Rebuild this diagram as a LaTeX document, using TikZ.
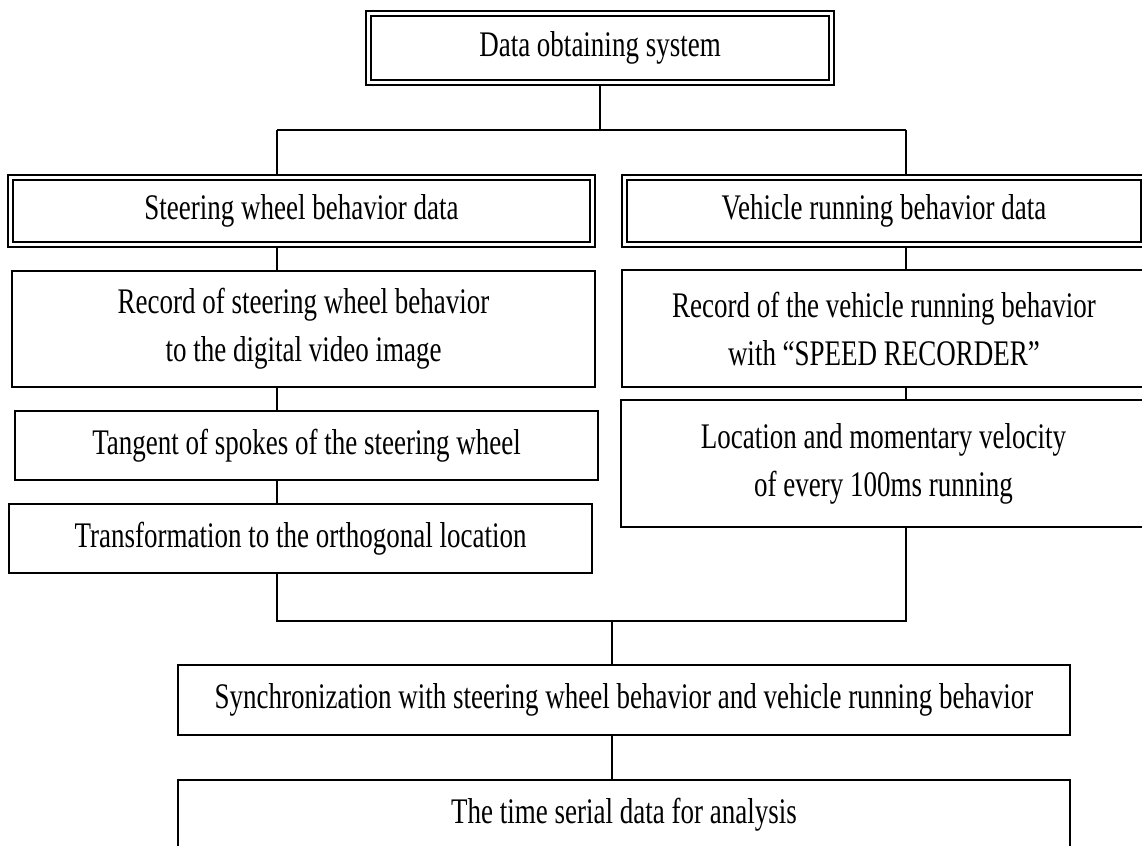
\documentclass[tikz,border=0pt]{standalone}
\usepackage{fontspec}
\setmainfont[FakeStretch=0.75]{Liberation Serif}
\usetikzlibrary{positioning, calc}

\begin{document}
\begin{tikzpicture}[x=0.5pt, y=-0.5pt,
  box/.style={draw, line width=0.9pt, align=center, inner sep=0pt, font=\fontsize{18}{24}\selectfont},
  dblbox/.style={box, line width=1.3pt, path picture={
      \draw[line width=0.8pt] ([shift={(2.5pt,-2.5pt)}]path picture bounding box.north west)
        rectangle ([shift={(-2.5pt,2.5pt)}]path picture bounding box.south east);}},
  link/.style={line width=0.85pt}
]
\useasboundingbox (0,0) rectangle (1142,846);

% top level
\node[dblbox, minimum width=234pt, minimum height=37pt] (sys) at (600,48) {Data obtaining system};
\node[dblbox, minimum width=293.5pt, minimum height=36pt] (steer) at (301.5,211) {Steering wheel behavior data};
\node[dblbox, minimum width=262pt, minimum height=36pt] (vehicle) at (884,211) {Vehicle running behavior data};

% left branch
\node[box, minimum width=291.5pt, minimum height=58pt] (recS) at (303.5,329) {Record of steering wheel behavior\\to the digital video image};
\node[box, minimum width=291.5pt, minimum height=34.5pt] (tang) at (306.5,445.5) {Tangent of spokes of the steering wheel};
\node[box, minimum width=291.5pt, minimum height=34.5pt] (trans) at (300.5,538.5) {Transformation to the orthogonal location};

% right branch
\node[box, minimum width=262pt, minimum height=58.5pt] (recV) at (884,328.5) {Record of the vehicle running behavior\\with “SPEED RECORDER”};
\node[box, minimum width=262.5pt, minimum height=63.5pt] (loc) at (883.5,463.5) {Location and momentary velocity\\of every 100ms running};

% merge
\node[box, minimum width=446pt, minimum height=35pt] (sync) at (624,700) {Synchronization with steering wheel behavior and vehicle running behavior};
\node[box, minimum width=446pt, minimum height=35pt] (final) at (624,815) {The time serial data for analysis};

\coordinate (jl) at (277,130);
\coordinate (jr) at (906,130);
\coordinate (jm) at (612,621);

\draw[link] (sys.south) -- (sys.south |- jl);
\draw[link] (jl) -- (jr);
\draw[link] (jl) -- (jl |- steer.north);
\draw[link] (jr) -- (jr |- vehicle.north);
\draw[link] (jl |- steer.south) -- (jl |- recS.north);
\draw[link] (jl |- recS.south) -- (jl |- tang.north);
\draw[link] (jl |- tang.south) -- (jl |- trans.north);
\draw[link] (jr |- vehicle.south) -- (jr |- recV.north);
\draw[link] (jr |- recV.south) -- (jr |- loc.north);
\draw[link] (jl |- trans.south) |- (jm);
\draw[link] (jr |- loc.south) |- (jm);
\draw[link] (jm) -- (jm |- sync.north);
\draw[link] (jm |- sync.south) -- (jm |- final.north);
\end{tikzpicture}
\end{document}
